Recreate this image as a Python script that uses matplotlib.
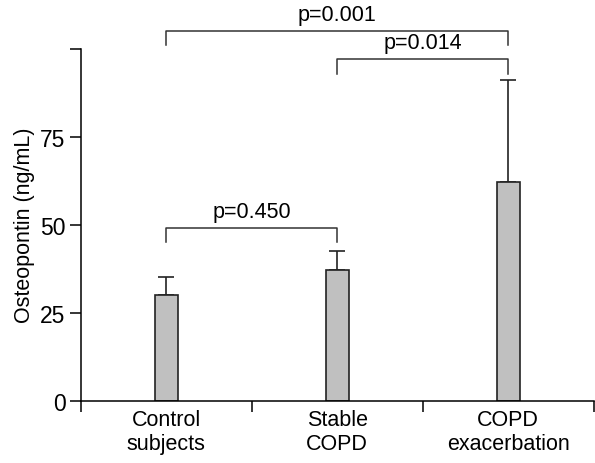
import matplotlib.pyplot as plt
import numpy as np

plt.rcParams['font.family'] = ['Liberation Sans', 'DejaVu Sans']

groups = ['Control\nsubjects', 'Stable\nCOPD', 'COPD\nexacerbation']
means = [30, 37, 62]
errs = [5, 5.5, 29]

# comparisons: (left group, right group, bracket top, leg bottom, label)
pairs = [(0, 1, 49, 45, 'p=0.450'),
         (1, 2, 97, 92.8, 'p=0.014'),
         (0, 2, 105, 101, 'p=0.001')]

fig = plt.figure(figsize=(5.95, 4.64), dpi=100)
ax = fig.add_axes([0.1356, 0.1343, 0.8624, 0.8657])

x = np.arange(len(groups))
ax.bar(x, means, width=0.133, color='#c0c0c0', edgecolor='#222222', linewidth=1.2, zorder=2)
ax.errorbar(x, means, yerr=[np.zeros(3), errs], fmt='none', ecolor='#222222',
            elinewidth=1.2, capsize=6, capthick=1.2, zorder=1)

for a, b, top, bot, lab in pairs:
    ax.plot([a, a, b, b], [bot, top, top, bot], color='#333333', lw=1.1)
    ax.text((a + b) / 2, top + 1.8, lab, ha='center', va='bottom', fontsize=15.5)

ax.set_xlim(-0.5, 2.5)
ax.set_ylim(0, 114.1)
ax.spines['top'].set_visible(False)
ax.spines['right'].set_visible(False)
ax.spines['left'].set_bounds(0, 100)
ax.spines['left'].set_linewidth(1.1)
ax.spines['bottom'].set_linewidth(1.1)

ax.set_yticks([0, 25, 50, 75, 100])
ax.set_yticklabels(['0', '25', '50', '75', ''])
ax.set_xticks([-0.5, 0.5, 1.5, 2.5])
ax.set_xticklabels([])
ax.set_xticks(x, minor=True)
ax.set_xticklabels(groups, minor=True)
ax.tick_params(axis='x', which='minor', length=0, pad=6, labelsize=15.5)
ax.tick_params(axis='x', which='major', length=8, width=1.1, direction='out')
ax.tick_params(axis='y', length=8, width=1.1, labelsize=16.5, pad=3)
ax.set_ylabel('Osteopontin (ng/mL)', fontsize=15.5)
ax.yaxis.set_label_coords(-0.09, 0.438)

fig.savefig('out.png', dpi=100)
